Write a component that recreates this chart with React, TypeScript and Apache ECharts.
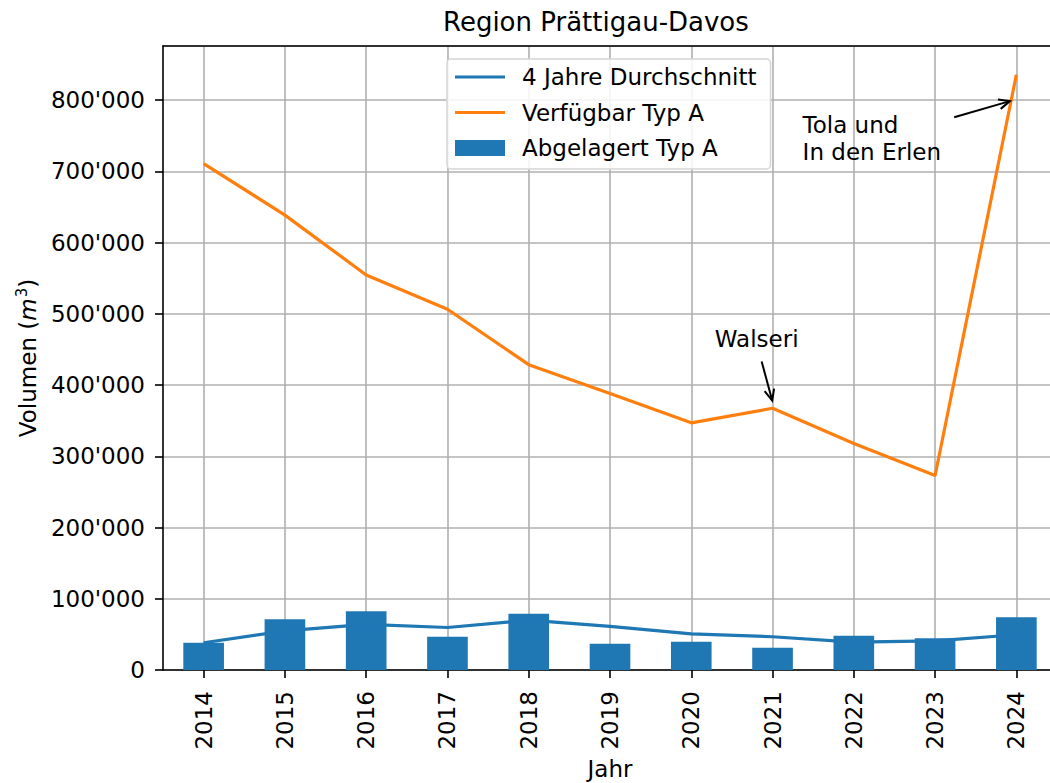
import React, { useEffect, useRef } from "react";
import * as echarts from "echarts";

const years = ["2014", "2015", "2016", "2017", "2018", "2019", "2020", "2021", "2022", "2023", "2024"];
const abgelagert = [38200, 71400, 82600, 46700, 78900, 36900, 39700, 31300, 48000, 44400, 74200];
const durchschnitt = [38200, 54800, 64100, 59700, 69900, 61300, 50600, 46700, 39000, 40900, 49500];
const verfuegbar = [711000, 638600, 554600, 506500, 428600, 388000, 347000, 367400, 318000, 273000, 835700];
const yTicks = [0, 100000, 200000, 300000, 400000, 500000, 600000, 700000, 800000];

// annotations in data units (x = category index, y = value)
const annWalseri = { text: "Walseri", x: 6.29, y: 465000, tail: [6.866, 433000], tip: [6.996, 378300] };
const annTola = { text: "Tola und\nIn den Erlen", x: 7.37, y: 746000, tail: [9.235, 776000], tip: [9.92, 798600] };

const FONT = "DejaVu Sans";
const BLUE = "#1f77b4";
const ORANGE = "#ff7f0e";
const GRID = "#b0b0b0";
const LINE_ICON = "path://M0,0H50V3H0Z";

const fmt = (v: number) => String(v).replace(/\B(?=(\d{3})+(?!\d))/g, "'");

export default function App() {
  const ref = useRef<HTMLDivElement>(null);
  useEffect(() => {
    if (!ref.current) return;
    const chart = echarts.init(ref.current, undefined, { renderer: "svg" });
    const option: any = {
      animation: false,
      textStyle: { fontFamily: FONT },
      title: {
        text: "Region Prättigau-Davos",
        left: 443,
        top: 9,
        padding: 0,
        textStyle: { fontFamily: FONT, fontSize: 26, fontWeight: "normal", color: "#000" },
      },
      legend: {
        orient: "vertical",
        left: 447,
        top: 59,
        padding: [5, 14, 8, 8],
        itemWidth: 50,
        itemHeight: 16,
        itemGap: 9.5,
        backgroundColor: "rgba(255,255,255,0.85)",
        borderColor: "#d5d5d5",
        borderWidth: 1.5,
        borderRadius: 4,
        symbolKeepAspect: true,
        textStyle: { fontFamily: FONT, fontSize: 23, color: "#000", lineHeight: 26, padding: [0, 0, 0, 12] },
        data: [
          { name: "4 Jahre Durchschnitt", icon: LINE_ICON, itemStyle: { color: BLUE, borderWidth: 0 } },
          { name: "Verfügbar Typ A", icon: LINE_ICON, itemStyle: { color: ORANGE, borderWidth: 0 } },
          { name: "Abgelagert Typ A", icon: "rect", itemStyle: { color: BLUE, borderWidth: 0 } },
        ],
      },
      grid: { left: 163, top: 46, width: 894, height: 624, containLabel: false, outerBoundsMode: "none" },
      xAxis: [
        {
          type: "category",
          data: years,
          boundaryGap: true,
          name: "Jahr",
          nameLocation: "middle",
          nameGap: 82,
          nameTextStyle: { fontFamily: FONT, fontSize: 23, color: "#000" },
          axisLine: { show: true, onZero: false, lineStyle: { color: "#000", width: 1.6 } },
          axisTick: { show: true, alignWithLabel: true, length: 8, lineStyle: { color: "#000", width: 1.6 } },
          axisLabel: { rotate: 90, margin: 21, fontFamily: FONT, fontSize: 23, color: "#000" },
          splitLine: { show: true, alignWithLabel: true, lineStyle: { color: GRID, width: 1.6 } },
        },
        {
          type: "value",
          min: -0.5,
          max: 10.5,
          position: "top",
          axisLine: { show: true, onZero: false, lineStyle: { color: "#000", width: 1.6 } },
          axisTick: { show: false },
          axisLabel: { show: false },
          splitLine: { show: false },
        },
      ],
      yAxis: [
        {
          type: "value",
          min: 0,
          max: 876000,
          interval: 100000,
          name: "Volumen ({i|m}{s|3})",
          nameLocation: "middle",
          nameGap: 112,
          nameRotate: 90,
          nameTextStyle: {
            fontFamily: FONT,
            fontSize: 23,
            color: "#000",
            rich: {
              i: { fontFamily: FONT, fontSize: 23, fontStyle: "italic", color: "#000" },
              s: { fontFamily: FONT, fontSize: 15, color: "#000", verticalAlign: "top", padding: [0, 0, 12, 1] },
            },
          },
          axisLine: { show: true, onZero: false, lineStyle: { color: "#000", width: 1.6 } },
          axisTick: { show: true, length: 8, lineStyle: { color: "#000", width: 1.6 } },
          axisLabel: {
            margin: 18,
            showMaxLabel: false,
            fontFamily: FONT,
            fontSize: 23,
            color: "#000",
            formatter: (v: number) => (yTicks.indexOf(v) >= 0 ? fmt(v) : ""),
          },
          splitLine: { show: true, lineStyle: { color: GRID, width: 1.6 } },
        },
      ],
      series: [
        {
          name: "Abgelagert Typ A",
          type: "bar",
          data: abgelagert,
          barWidth: "50%",
          itemStyle: { color: BLUE },
          z: 2,
        },
        {
          name: "4 Jahre Durchschnitt",
          type: "line",
          data: durchschnitt,
          symbol: "none",
          lineStyle: { color: BLUE, width: 3.2 },
          itemStyle: { color: BLUE },
          z: 3,
        },
        {
          name: "Verfügbar Typ A",
          type: "line",
          data: verfuegbar,
          symbol: "none",
          lineStyle: { color: ORANGE, width: 3.2 },
          itemStyle: { color: ORANGE },
          z: 3,
        },
      ],
    };
    chart.setOption(option);

    const px = (x: number, y: number) => [
      chart.convertToPixel({ xAxisIndex: 1 } as any, x) as unknown as number,
      chart.convertToPixel({ yAxisIndex: 0 } as any, y) as unknown as number,
    ];
    const arrow = (tail: number[], tip: number[]) => {
      const a = px(tail[0], tail[1]);
      const b = px(tip[0], tip[1]);
      const ang = Math.atan2(a[1] - b[1], a[0] - b[0]);
      const L = 12;
      const h = 0.42;
      const p1 = [b[0] + L * Math.cos(ang + h), b[1] + L * Math.sin(ang + h)];
      const p2 = [b[0] + L * Math.cos(ang - h), b[1] + L * Math.sin(ang - h)];
      return [
        { type: "line", shape: { x1: a[0], y1: a[1], x2: b[0], y2: b[1] }, style: { stroke: "#000", lineWidth: 2 }, z: 10 },
        { type: "polyline", shape: { points: [p1, b, p2] }, style: { stroke: "#000", lineWidth: 2, fill: null }, z: 10 },
      ];
    };
    const label = (ann: any) => {
      const p = px(ann.x, ann.y);
      return {
        type: "text",
        x: p[0],
        y: p[1],
        z: 10,
        style: {
          text: ann.text,
          fontFamily: FONT,
          fontSize: 23,
          lineHeight: 27,
          fill: "#000",
          textAlign: "left",
          textVerticalAlign: "middle",
        },
      };
    };
    chart.setOption({
      graphic: [label(annWalseri), ...arrow(annWalseri.tail, annWalseri.tip), label(annTola), ...arrow(annTola.tail, annTola.tip)],
    });
    return () => chart.dispose();
  }, []);
  return <div ref={ref} style={{ position: "fixed", left: 0, top: 0, width: 1050, height: 783, background: "#fff" }} />;
}
